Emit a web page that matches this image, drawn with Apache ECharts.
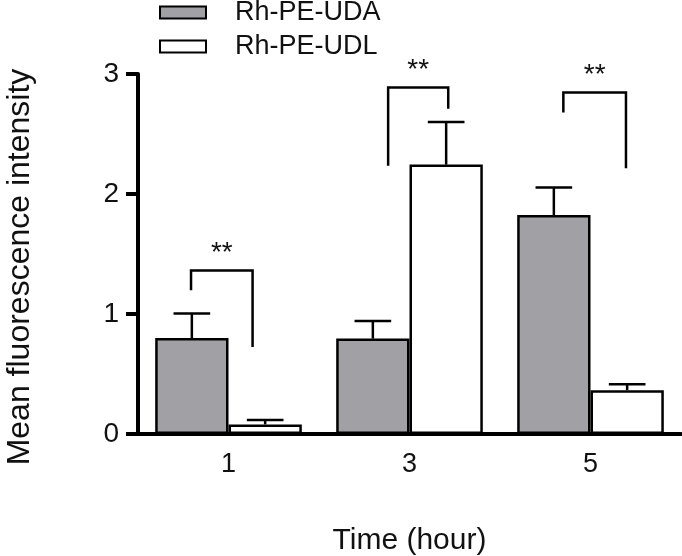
<!DOCTYPE html>
<html>
<head>
<meta charset="utf-8">
<script src="https://cdn.jsdelivr.net/npm/echarts@6/dist/echarts.min.js"></script>
<style>html,body{margin:0;padding:0;background:#fff}#c{width:682px;height:556px}</style>
</head>
<body>
<div id="c"></div>
<script>
// ---- data ----
var categories = ['1', '3', '5'];
var seriesNames = ['Rh-PE-UDA', 'Rh-PE-UDL'];
var udaMean = [0.80, 0.795, 1.825];
var udaErr  = [0.205, 0.147, 0.23];
var udlMean = [0.08, 2.245, 0.365];
var udlErr  = [0.036, 0.355, 0.05];
// significance brackets (value units): left leg bottom, top, right leg bottom
var bracketLeftBottom  = [1.197, 2.236, 2.679];
var bracketTop         = [1.363, 2.887, 2.846];
var bracketRightBottom = [0.726, 2.71, 2.214];
var bracketLabel = ['**', '**', '**'];
var yTicks = [0, 1, 2, 3];

// ---- drawing ----
var FONT = 'Liberation Sans, Arial, sans-serif';
var legOffsets = [[-0.207, 0.133], [-0.118, 0.214], [-0.15, 0.196]];

function errData(means, errs) {
  return means.map(function (m, i) { return [i, m, m + errs[i]]; });
}
function errorRender(side) {
  return function (params, api) {
    var band = api.size([1, 0])[0];
    var off = side * band * 0.81 / 4;
    var base = api.coord([api.value(0), api.value(1)]);
    var top = api.coord([api.value(0), api.value(2)]);
    var x = base[0] + off;
    var cap = band * 0.81 / 4;
    return {
      type: 'group',
      children: [
        {type: 'line', shape: {x1: x, y1: base[1], x2: x, y2: top[1]}, style: {stroke: '#000', lineWidth: 2.5}},
        {type: 'line', shape: {x1: x - cap / 2, y1: top[1], x2: x + cap / 2, y2: top[1]}, style: {stroke: '#000', lineWidth: 2.5}}
      ]
    };
  };
}
var bracketData = categories.map(function (c, i) {
  return [i, bracketLeftBottom[i], bracketTop[i], bracketRightBottom[i]];
});

var chart = echarts.init(document.getElementById('c'), null, {renderer: 'canvas'});
chart.setOption({
  animation: false,
  backgroundColor: '#fff',
  textStyle: {fontFamily: FONT, color: '#111'},
  legend: {
    orient: 'vertical', left: 154, top: -6,
    itemWidth: 46, itemHeight: 12, itemGap: 7,
    icon: 'rect',
    textStyle: {fontSize: 27, fontFamily: FONT, color: '#111', padding: [0, 0, 0, 24]},
    data: seriesNames
  },
  grid: {left: 138, right: 1, top: 74, bottom: 122, containLabel: false, outerBoundsMode: 'none'},
  xAxis: {
    type: 'category', data: categories,
    name: 'Time (hour)', nameLocation: 'middle', nameGap: 92,
    nameTextStyle: {fontSize: 30, fontFamily: FONT, color: '#111'},
    axisLine: {lineStyle: {color: '#000', width: 4}},
    axisTick: {alignWithLabel: true, length: 11, lineStyle: {color: '#000', width: 4}},
    axisLabel: {fontSize: 27, color: '#111', margin: 17, fontFamily: FONT}
  },
  yAxis: {
    type: 'value', min: 0, max: 3, interval: 1,
    name: 'Mean fluorescence intensity', nameLocation: 'middle', nameGap: 102,
    nameTextStyle: {fontSize: 32, fontFamily: FONT, color: '#111', padding: [0, 26, 0, 0]},
    axisLine: {show: true, lineStyle: {color: '#000', width: 4}},
    axisTick: {show: true, length: 12, lineStyle: {color: '#000', width: 4}},
    axisLabel: {fontSize: 28, color: '#111', margin: 19, fontFamily: FONT,
      formatter: function (v) { return yTicks.indexOf(v) >= 0 ? String(v) : ''; }},
    splitLine: {show: false}
  },
  series: [
    {name: seriesNames[0], type: 'bar', data: udaMean, barGap: '0%', barCategoryGap: '19%',
      itemStyle: {color: '#a1a1a5', borderColor: '#000', borderWidth: 2.5}, z: 2},
    {name: seriesNames[1], type: 'bar', data: udlMean, barGap: '0%', barCategoryGap: '19%',
      itemStyle: {color: '#fff', borderColor: '#000', borderWidth: 2.5}, z: 2},
    {type: 'custom', data: errData(udaMean, udaErr), renderItem: errorRender(-1), z: 1, silent: true},
    {type: 'custom', data: errData(udlMean, udlErr), renderItem: errorRender(1), z: 1, silent: true},
    {type: 'custom', data: bracketData, z: 3, silent: true, clip: false,
      renderItem: function (params, api) {
        var i = api.value(0);
        var band = api.size([1, 0])[0];
        var c = api.coord([i, api.value(2)]);
        var lb = api.coord([i, api.value(1)]);
        var rb = api.coord([i, api.value(3)]);
        var xl = c[0] + legOffsets[i][0] * band;
        var xr = c[0] + legOffsets[i][1] * band;
        return {
          type: 'group',
          children: [
            {type: 'polyline', shape: {points: [[xl, lb[1]], [xl, c[1]], [xr, c[1]], [xr, rb[1]]]},
              style: {stroke: '#000', lineWidth: 2.5, fill: null}},
            {type: 'text', style: {text: bracketLabel[i], x: (xl + xr) / 2, y: c[1] - 3,
              align: 'center', verticalAlign: 'bottom', fontSize: 28, fontFamily: FONT, fill: '#111'}}
          ]
        };
      }}
  ]
});
</script>
</body>
</html>
